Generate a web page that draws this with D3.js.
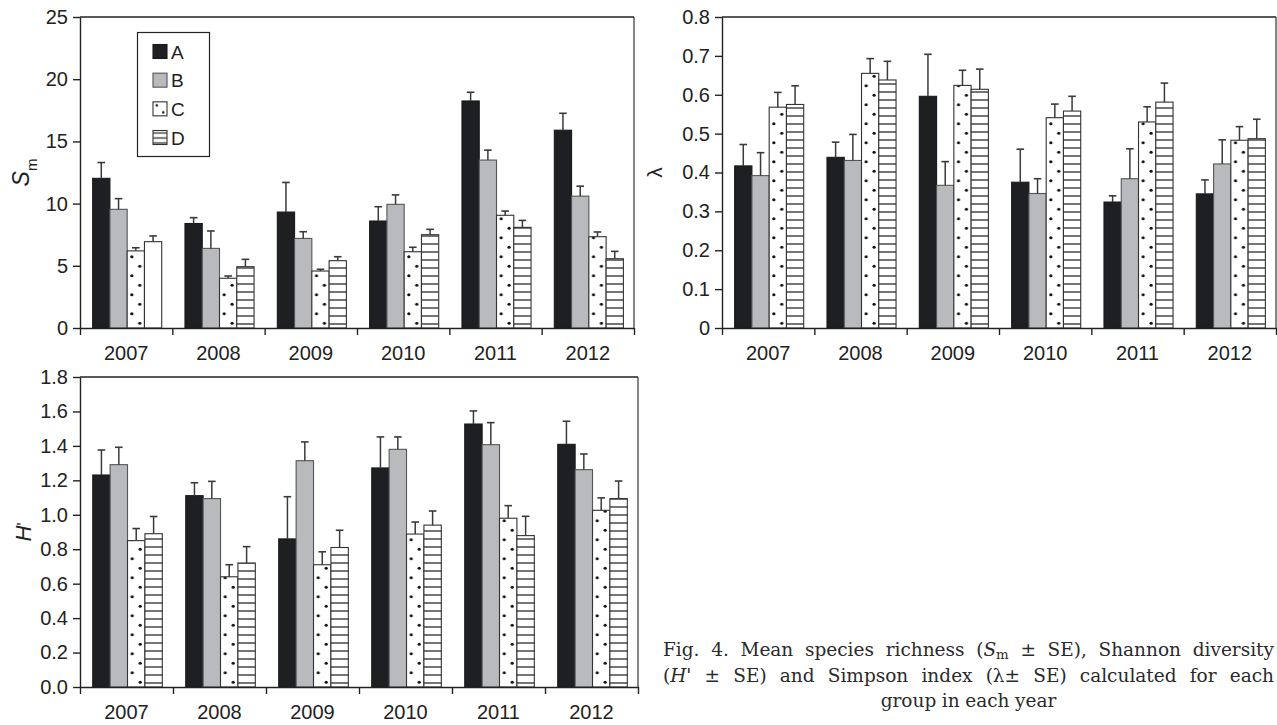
<!DOCTYPE html>
<html><head><meta charset="utf-8">
<script src="https://cdn.jsdelivr.net/npm/d3@7"></script>
<style>body{margin:0;background:#fff;} svg{display:block;}</style>
</head><body>
<svg id="c" width="1277" height="725"></svg>
<script>
// ---------------- DATA ----------------
const years = ["2007", "2008", "2009", "2010", "2011", "2012"];
const groups = ["A", "B", "C", "D"];

// Mean species richness (Sm), one array per group A..D
const smMeans = [
  [12.03, 8.40, 9.32, 8.60, 18.25, 15.90],
  [9.54, 6.40, 7.20, 9.94, 13.50, 10.60],
  [6.20, 4.00, 4.58, 6.13, 9.06, 7.34],
  [6.94, 4.93, 5.41, 7.50, 8.09, 5.57]
];
const smSE = [
  [1.27, 0.47, 2.38, 1.15, 0.70, 1.36],
  [0.86, 1.40, 0.54, 0.76, 0.80, 0.80],
  [0.25, 0.18, 0.14, 0.36, 0.34, 0.38],
  [0.46, 0.59, 0.32, 0.43, 0.56, 0.59]
];
const smTicks = [0, 5, 10, 15, 20, 25];

// Simpson index (lambda)
const lambdaMeans = [
  [0.417, 0.439, 0.596, 0.375, 0.324, 0.345],
  [0.392, 0.431, 0.367, 0.346, 0.384, 0.422],
  [0.568, 0.655, 0.624, 0.541, 0.530, 0.483],
  [0.575, 0.638, 0.614, 0.558, 0.581, 0.487]
];
const lambdaSE = [
  [0.055, 0.039, 0.108, 0.085, 0.016, 0.036],
  [0.059, 0.067, 0.061, 0.038, 0.077, 0.062],
  [0.038, 0.038, 0.039, 0.035, 0.039, 0.035],
  [0.048, 0.048, 0.052, 0.038, 0.049, 0.050]
];
const lambdaTicks = [0, 0.1, 0.2, 0.3, 0.4, 0.5, 0.6, 0.7, 0.8];

// Shannon diversity (H')
const hMeans = [
  [1.231, 1.111, 0.860, 1.272, 1.527, 1.409],
  [1.291, 1.094, 1.314, 1.380, 1.407, 1.262],
  [0.850, 0.640, 0.710, 0.888, 0.980, 1.026],
  [0.890, 0.720, 0.810, 0.940, 0.879, 1.094]
];
const hSE = [
  [0.145, 0.075, 0.245, 0.180, 0.076, 0.134],
  [0.101, 0.100, 0.109, 0.072, 0.128, 0.091],
  [0.070, 0.070, 0.075, 0.070, 0.073, 0.072],
  [0.100, 0.095, 0.100, 0.082, 0.112, 0.102]
];
const hTicks = [0, 0.2, 0.4, 0.6, 0.8, 1.0, 1.2, 1.4, 1.6, 1.8];

// ---------------- DRAWING ----------------
const svg = d3.select("#c");
const defs = svg.append("defs");
const FONT = "'Liberation Sans', Arial, Helvetica, sans-serif";
const INK = "#222";
const fillA = "#1e1f23", fillB = "#b9babd";

function dotPattern(id, x0, y0, w, h, r) {
  const p = defs.append("pattern").attr("id", id)
    .attr("patternUnits", "userSpaceOnUse")
    .attr("x", x0).attr("y", y0).attr("width", w).attr("height", h);
  p.append("rect").attr("width", w).attr("height", h).attr("fill", "#fff");
  p.append("circle").attr("cx", w * 0.27).attr("cy", h * 0.25).attr("r", r).attr("fill", "#111");
  p.append("circle").attr("cx", w * 0.73).attr("cy", h * 0.75).attr("r", r).attr("fill", "#111");
}
function stripePattern(id, y0, step) {
  const p = defs.append("pattern").attr("id", id)
    .attr("patternUnits", "userSpaceOnUse")
    .attr("x", 0).attr("y", y0).attr("width", 20).attr("height", step);
  p.append("rect").attr("width", 20).attr("height", step).attr("fill", "#fff");
  p.append("line").attr("x1", 0).attr("x2", 20).attr("y1", step / 2).attr("y2", step / 2)
    .attr("stroke", "#2a2a2a").attr("stroke-width", 1.3);
}

function drawChart(cfg) {
  const x = d3.scaleBand().domain(years).range([cfg.left, cfg.right]);
  const bw = x.bandwidth();
  const xg = d3.scaleBand().domain(groups).range([bw * 0.137, bw * 0.885]);
  const y = d3.scaleLinear().domain(cfg.domain).range([cfg.bottom, cfg.top]);
  const xi = d3.scaleLinear().domain([0, years.length]).range([cfg.left, cfg.right]);
  const g = svg.append("g");

  stripePattern("stripe-" + cfg.id, cfg.bottom, 8);

  // bars
  groups.forEach((grp, gi) => {
    years.forEach((yr, yi) => {
      const v = cfg.means[gi][yi];
      const bx = x(yr) + xg(grp), w = xg.bandwidth();
      let fill, stroke = "#333";
      if (gi === 0) { fill = fillA; stroke = "#1a1a1a"; }
      else if (gi === 1) { fill = fillB; stroke = "#555"; }
      else if (gi === 2) {
        const pid = `dots-${cfg.id}-${yi}`;
        dotPattern(pid, bx, cfg.bottom, w, 19, 1.6);
        fill = `url(#${pid})`;
      } else {
        fill = (cfg.plainD && cfg.plainD.includes(yr)) ? "#fff" : `url(#stripe-${cfg.id})`;
      }
      g.append("rect")
        .attr("x", bx).attr("y", y(v)).attr("width", w).attr("height", y(0) - y(v))
        .attr("fill", fill).attr("stroke", stroke).attr("stroke-width", 1.1);
    });
  });
  // error bars
  groups.forEach((grp, gi) => {
    years.forEach((yr, yi) => {
      const v = cfg.means[gi][yi], se = cfg.se[gi][yi];
      const cx = x(yr) + xg(grp) + xg.bandwidth() / 2;
      const yt = y(v + se);
      g.append("line").attr("x1", cx).attr("x2", cx).attr("y1", y(v)).attr("y2", yt)
        .attr("stroke", "#3a3a3a").attr("stroke-width", 1.5);
      g.append("line").attr("x1", cx - 3.8).attr("x2", cx + 3.8).attr("y1", yt).attr("y2", yt)
        .attr("stroke", "#3a3a3a").attr("stroke-width", 1.6);
    });
  });

  // frame: top & right border
  g.append("line").attr("x1", cfg.left).attr("x2", cfg.right).attr("y1", cfg.top).attr("y2", cfg.top)
    .attr("stroke", INK).attr("stroke-width", 1.4);
  g.append("line").attr("x1", cfg.right).attr("x2", cfg.right).attr("y1", cfg.top).attr("y2", cfg.bottom)
    .attr("stroke", INK).attr("stroke-width", 1.1);

  // y axis
  const ya = g.append("g").attr("transform", `translate(${cfg.left},0)`)
    .call(d3.axisLeft(y).tickValues(cfg.ticks).tickFormat(cfg.fmt).tickSize(7).tickSizeOuter(0).tickPadding(5));
  ya.selectAll("path,line").attr("stroke", INK).attr("stroke-width", 1.4);
  ya.selectAll("text").attr("font-family", FONT).attr("font-size", 20).attr("fill", INK);

  // x axis (ticks at category boundaries)
  const xa = g.append("g").attr("transform", `translate(0,${cfg.bottom})`)
    .call(d3.axisBottom(xi).tickValues(d3.range(years.length + 1)).tickFormat("").tickSize(7).tickSizeOuter(0));
  xa.selectAll("path,line").attr("stroke", INK).attr("stroke-width", 1.4);
  g.selectAll(null).data(years).enter().append("text")
    .attr("x", d => x(d) + bw / 2).attr("y", cfg.bottom + 32)
    .attr("text-anchor", "middle").attr("font-family", FONT).attr("font-size", 20).attr("fill", INK)
    .text(d => d);

  // y title
  const t = g.append("text")
    .attr("transform", `translate(${cfg.titleX},${(cfg.top + cfg.bottom) / 2}) rotate(-90)`)
    .attr("text-anchor", "middle").attr("font-family", FONT).attr("fill", INK);
  cfg.title(t);
  return { x, xg, y };
}

drawChart({
  id: "sm", left: 80, right: 634, top: 17, bottom: 328, domain: [0, 25],
  means: smMeans, se: smSE, ticks: smTicks, fmt: d3.format("d"), plainD: ["2007"],
  titleX: 29,
  title: t => {
    t.append("tspan").attr("font-size", 23).attr("font-style", "italic").text("S");
    t.append("tspan").attr("font-size", 15).attr("dy", 8).text("m");
  }
});
drawChart({
  id: "lam", left: 722, right: 1276, top: 17, bottom: 328, domain: [0, 0.8],
  means: lambdaMeans, se: lambdaSE, ticks: lambdaTicks, fmt: d => d === 0 ? "0" : d3.format(".1f")(d),
  titleX: 662,
  title: t => { t.append("tspan").attr("font-size", 21).text("λ"); }
});
drawChart({
  id: "h", left: 80, right: 638, top: 377, bottom: 687, domain: [0, 1.8],
  means: hMeans, se: hSE, ticks: hTicks, fmt: d3.format(".1f"),
  titleX: 31,
  title: t => {
    t.append("tspan").attr("font-size", 22).attr("font-style", "italic").text("H");
    t.append("tspan").attr("font-size", 16).attr("dy", -2).text("'");
  }
});

// legend (in Sm panel)
{
  const lg = svg.append("g");
  lg.append("rect").attr("x", 137.5).attr("y", 32.5).attr("width", 72).attr("height", 124)
    .attr("fill", "#fff").attr("stroke", INK).attr("stroke-width", 1.2);
  const rowY = d3.scalePoint().domain(groups).range([51.5, 137.5]);
  dotPattern("leg-dots", 153, rowY("C") - 7, 14, 14, 1.2);
  stripePattern("leg-stripe", rowY("D") - 7, 5);
  const fills = [fillA, fillB, "url(#leg-dots)", "url(#leg-stripe)"];
  const strokes = ["#1a1a1a", "#555", "#333", "#333"];
  groups.forEach((grp, gi) => {
    const cy = rowY(grp);
    lg.append("rect").attr("x", 153).attr("y", cy - 7).attr("width", 14).attr("height", 14)
      .attr("fill", fills[gi]).attr("stroke", strokes[gi]).attr("stroke-width", 1.1);
    lg.append("text").attr("x", 171).attr("y", cy + 7).attr("font-family", FONT)
      .attr("font-size", 19).attr("fill", INK).text(grp);
  });
}

// caption (justified)
{
  const CF = "'DejaVu Serif', 'Liberation Serif', serif";
  const CS = 18.5;
  const L = 663, R = 1274;
  const lines = [
    { y: 656, words: [[["Fig."]], [["4."]], [["Mean"]], [["species"]], [["richness"]],
      [["("], ["S", "i"], ["m", "s"]], [["±"]], [["SE),"]], [["Shannon"]], [["diversity"]]] },
    { y: 682, words: [[["("], ["H", "i"], ["'"]], [["±"]], [["SE)"]], [["and"]], [["Simpson"]],
      [["index"]], [["(λ±"]], [["SE)"]], [["calculated"]], [["for"]], [["each"]]] },
    { y: 707, center: true, words: [[["group"]], [["in"]], [["each"]], [["year"]]] }
  ];
  const cg = svg.append("g");
  lines.forEach(line => {
    const nodes = line.words.map(segs => {
      const t = cg.append("text").attr("y", line.y).attr("font-family", CF)
        .attr("font-size", CS).attr("fill", "#2a2a2a");
      segs.forEach(s => {
        const ts = t.append("tspan").text(s[0]);
        if (s[1] === "i") ts.attr("font-style", "italic");
        if (s[1] === "s") ts.attr("font-size", CS * 0.72).attr("dy", 3);
      });
      return t;
    });
    const widths = nodes.map(n => n.node().getComputedTextLength());
    const total = d3.sum(widths);
    let gap, start;
    if (line.center) {
      gap = CS * 0.3;
      start = (L + R) / 2 - (total + gap * (nodes.length - 1)) / 2;
    } else {
      gap = Math.max(3, (R - L - total) / (nodes.length - 1));
      start = L;
    }
    let cx = start;
    nodes.forEach((n, i) => { n.attr("x", cx); cx += widths[i] + gap; });
  });
}
</script>
</body></html>
